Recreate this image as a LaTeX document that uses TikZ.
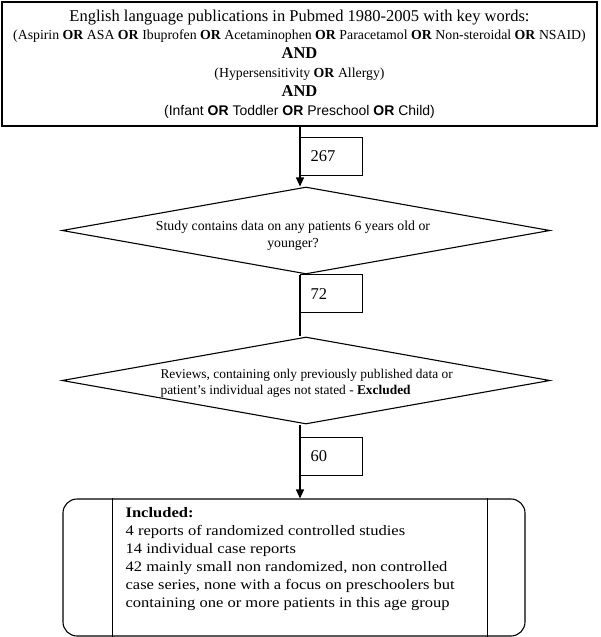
\documentclass[tikz,border=0pt]{standalone}
\usepackage{fontspec}
\setmainfont{Liberation Serif}
\newfontfamily\arialfont{Liberation Sans}
\usetikzlibrary{arrows.meta,shapes.geometric}

\begin{document}
\begin{tikzpicture}[x=1pt, y=-1pt, line width=1.1pt,
	box/.style={draw, rectangle, inner sep=0pt},
	count/.style={draw, anchor=north west, minimum width=62pt, minimum height=38pt, inner xsep=10pt, text width=42pt, align=left, font=\fontsize{16.5}{18}\selectfont},
	decision/.style={draw, diamond, aspect=1, inner sep=0pt, minimum width=488pt, minimum height=87pt},
	flow/.style={-{Triangle[length=9pt, width=8pt]}}]
	\useasboundingbox (0,0) rectangle (600,637);
	% search box
	\node[box, minimum width=595pt, minimum height=124pt, align=center, font=\fontsize{13.8}{18}\selectfont] (search) at (299.5,64) {%
		{\fontsize{16.5}{18}\selectfont English language publications in Pubmed 1980-2005 with key words:}\\
		(Aspirin \textbf{OR} ASA \textbf{OR} Ibuprofen \textbf{OR} Acetaminophen \textbf{OR} Paracetamol \textbf{OR} Non-steroidal \textbf{OR} NSAID)\\[1.5pt]
		{\fontsize{16.5}{18}\selectfont\textbf{AND}}\\[1pt]
		(Hypersensitivity \textbf{OR} Allergy)\\[1pt]
		{\fontsize{16.5}{18}\selectfont\textbf{AND}}\\[0.5pt]
		{\arialfont\fontsize{14}{18}\selectfont (Infant \textbf{OR} Toddler \textbf{OR} Preschool \textbf{OR} Child)}};
	% decisions
	\node[decision] (d1) at (306,230.5) {};
	\node[align=center, font=\fontsize{13.8}{17}\selectfont] (q1) at (293,236) {Study contains data on any patients 6 years old or\\younger?};
	\node[decision] (d2) at (306,380.5) {};
	\node[anchor=west, align=left, font=\fontsize{13.4}{16}\selectfont, inner sep=0pt] (q2) at (160,383) {Reviews, containing only previously published data or\\patient's individual ages not stated - \textbf{Excluded}};
	% counts
	\node[count] (n267) at (300,137) {267};
	\node[count] (n72) at (300,274) {72};
	\node[count] (n60) at (300,437) {60};
	% included
	\node[draw, rounded corners=14pt, minimum width=462pt, minimum height=137pt, inner sep=0pt] (incl) at (294,567.5) {};
	\draw ([xshift=50pt]incl.north west) -- ([xshift=50pt]incl.south west);
	\draw ([xshift=-38pt]incl.north east) -- ([xshift=-38pt]incl.south east);
	\node[anchor=north west, align=left, font=\fontsize{14.5}{18}\selectfont, inner sep=0pt, xscale=1.14, transform shape] (result) at (125,507) {\textbf{Included:}\\
		4 reports of randomized controlled studies\\
		14 individual case reports\\
		42 mainly small non randomized, non controlled\\
		case series, none with a focus on preschoolers but\\
		containing one or more patients in this age group};
	% flow lines
	\draw[flow] (n267.west |- search.south) -- (n267.west |- d1.north);
	\draw (n267.west |- d1.south) -- (n267.west |- d2.north);
	\draw[flow] (n267.west |- d2.south) -- (n267.west |- incl.north);
\end{tikzpicture}
\end{document}
